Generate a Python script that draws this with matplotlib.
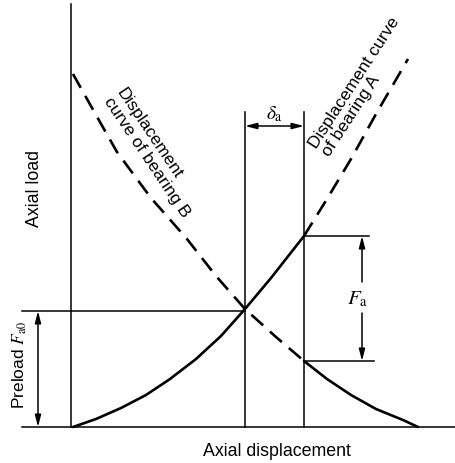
import matplotlib.pyplot as plt

plt.rcParams['font.family'] = ['Liberation Sans', 'DejaVu Sans']
plt.rcParams['mathtext.fontset'] = 'stix'

# Curva do rolamento A (carga x deslocamento), parte cheia e tracejada
a_solid_x = [2, 25, 50, 75, 99, 125, 150, 174, 200, 233]
a_solid_y = [0, 8, 19, 32, 48, 68, 91, 118, 149, 191]
a_dash_x = [233, 256, 280, 305, 337]
a_dash_y = [191, 228, 268, 313, 368]

# Curva do rolamento B
b_dash_x = [2, 25, 46, 80, 116, 145, 174, 205, 233]
b_dash_y = [353, 312, 275, 229, 188, 151, 118, 90, 66]
b_solid_x = [233, 256, 280, 305, 332, 347]
b_solid_y = [66, 48, 32, 18, 7, 0]

# Pontos de referencia
preload = 116
delta_lo, delta_hi = 174, 233
fa_top, fa_bot = 191, 66

fig = plt.figure(figsize=(4.56, 4.64), dpi=100)
ax = fig.add_axes([0, 0, 1, 1])
ax.set_xlim(-71, 385)
ax.set_ylim(-36, 428)
ax.axis('off')

k = 'black'
seta = dict(color=k, lw=1.1, shrinkA=0, shrinkB=0)
# eixos
ax.plot([0, 0], [0, 423], color=k, lw=1.1)
ax.plot([-49, 385], [0, 0], color=k, lw=1.1)

# curvas
ax.plot(a_solid_x, a_solid_y, color=k, lw=1.9, solid_capstyle='round')
ax.plot(a_dash_x, a_dash_y, color=k, lw=1.9, dashes=(6, 3.5))
ax.plot(b_dash_x, b_dash_y, color=k, lw=1.9, dashes=(6, 3.5))
ax.plot(b_solid_x, b_solid_y, color=k, lw=1.9, solid_capstyle='round')

# pre-carga
ax.plot([-49, delta_lo], [preload, preload], color=k, lw=1.1)
ax.annotate('', xy=(-33, preload), xytext=(-33, 0),
            arrowprops=dict(arrowstyle='<|-|>,head_length=0.7,head_width=0.18', **seta))
ax.text(-51, 63, r'Preload $F_{\mathrm{a0}}$', rotation=90, ha='center', va='center', fontsize=12.5)

# delta a
ax.plot([delta_lo, delta_lo], [0, 315], color=k, lw=1.1)
ax.plot([delta_hi, delta_hi], [0, 315], color=k, lw=1.1)
ax.annotate('', xy=(delta_lo, 301), xytext=(delta_hi, 301),
            arrowprops=dict(arrowstyle='<|-|>,head_length=0.7,head_width=0.18', **seta))
ax.text(203, 314, r'$\delta_{\mathrm{a}}$', ha='center', va='center', fontsize=14)

# Fa
ax.plot([delta_hi, 298], [fa_top, fa_top], color=k, lw=1.1)
ax.plot([delta_hi, 303], [fa_bot, fa_bot], color=k, lw=1.1)
ax.annotate('', xy=(291, fa_top), xytext=(291, 145),
            arrowprops=dict(arrowstyle='-|>,head_length=0.7,head_width=0.18', **seta))
ax.annotate('', xy=(291, fa_bot), xytext=(291, 114),
            arrowprops=dict(arrowstyle='-|>,head_length=0.7,head_width=0.18', **seta))
ax.text(287, 129, r'$F_{\mathrm{a}}$', ha='center', va='center', fontsize=15)

# rotulos
ax.text(-36, 239, 'Axial load', rotation=90, ha='center', va='center', fontsize=12.8)
ax.text(206, -24, 'Axial displacement', ha='center', va='center', fontsize=12.8)
ax.text(82, 275, 'Displacement\ncurve of bearing B', rotation=-56, ha='center', va='center',
        multialignment='left', fontsize=12.5, linespacing=1.0, rotation_mode='anchor')
ax.text(290, 341, 'Displacement curve\nof bearing A', rotation=57, ha='center', va='center',
        multialignment='left', fontsize=12.5, linespacing=1.0, rotation_mode='anchor')

fig.savefig('out.png', dpi=100)
